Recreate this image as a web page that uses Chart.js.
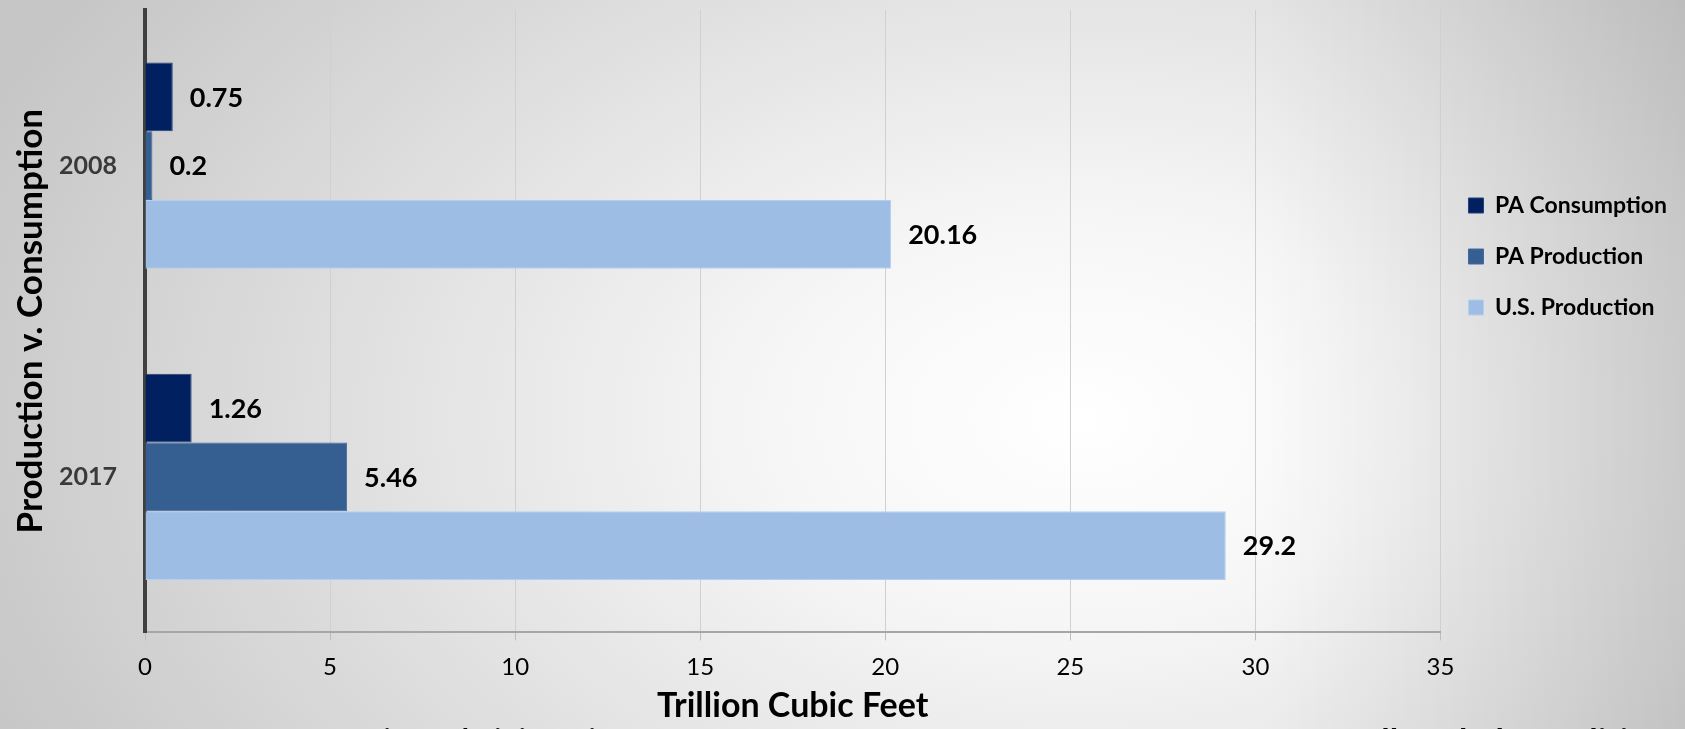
<!DOCTYPE html>
<html>
<head>
  <title>Production v. Consumption</title>
<script src="https://cdn.jsdelivr.net/npm/chart.js"></script>
<meta name="viewport" content="width=device-width, initial-scale=1.0">
</head>
<style>
body {
  margin: 0;
  overflow: hidden;
}

#page {
  position: relative;
  width: 1685px;
  height: 729px;
  overflow: hidden;
  background:
    linear-gradient(to right, rgba(0,0,0,0) 75%, rgba(0,0,0,0.12) 100%),
    radial-gradient(ellipse 1250px 820px at 1080px 420px, #ffffff 0%, #f6f6f6 25%, #e2e2e2 55%, #c6c6c6 95%);
  font-family: Lato, sans-serif;
}

#chart-container {
  position: absolute;
  left: 0;
  top: 0;
  width: 1685px;
  height: 729px;
}

.note {
  position: absolute;
  top: 724px;
  font-weight: bold;
  font-size: 30px;
  line-height: 1;
  white-space: nowrap;
  color: #000;
}
</style>
<body>
<div id="page">
  <div id="chart-container">
    <canvas id="chart"></canvas>
  </div>
  <div class="note" style="left: 2px;">Source: U.S. Energy Information Administration</div>
  <div class="note" style="left: 1286px; font-size: 34px;">Marcellus Shale Coalition</div>
</div>
</body>
<script>
const years = ['2008', '2017'];
const paConsumption = [0.75, 1.26];
const paProduction = [0.2, 5.46];
const usProduction = [20.16, 29.2];
const seriesNames = ['PA Consumption', 'PA Production', 'U.S. Production'];

// value labels to the right of each bar
const valueLabels = {
  id: 'valueLabels',
  afterDatasetsDraw(chart) {
    const ctx = chart.ctx;
    ctx.save();
    ctx.font = 'bold 27px Lato';
    ctx.fillStyle = '#000';
    ctx.textBaseline = 'middle';
    ctx.textAlign = 'left';
    chart.data.datasets.forEach((ds, i) => {
      chart.getDatasetMeta(i).data.forEach((bar, j) => {
        ctx.fillText(String(ds.data[j]), bar.x + 17, bar.y + 1);
      });
    });
    ctx.restore();
  }
};

const data = {
  labels: years,
  datasets: [{
    label: seriesNames[0],
    data: paConsumption,
    backgroundColor: '#002060',
    borderColor: '#23407a',
    borderWidth: 1
  }, {
    label: seriesNames[1],
    data: paProduction,
    backgroundColor: '#365F91',
    borderColor: '#4569a0',
    borderWidth: 1
  }, {
    label: seriesNames[2],
    data: usProduction,
    backgroundColor: '#9DBDE4',
    borderColor: '#b6cfee',
    borderWidth: 1
  }]
};

const chartEl = document.getElementById('chart');
const chart = new Chart(chartEl, {
  type: 'bar',
  data: data,
  plugins: [valueLabels],
  options: {
    indexAxis: 'y',
    responsive: true,
    maintainAspectRatio: false,
    animation: false,
    layout: {
      padding: { top: 10, right: 8, bottom: 0, left: 0 }
    },
    datasets: {
      bar: {
        barPercentage: 1.0,
        categoryPercentage: 0.663
      }
    },
    scales: {
      x: {
        min: 0,
        max: 35,
        ticks: {
          stepSize: 5,
          padding: 12,
          color: '#000',
          font: { family: 'Lato', size: 24 }
        },
        grid: {
          color: '#d0d0d0',
          lineWidth: 1,
          tickLength: 8,
          tickColor: '#bdbdbd'
        },
        border: {
          color: '#a6a6a6',
          width: 2
        },
        title: {
          display: true,
          text: 'Trillion Cubic Feet',
          color: '#000',
          font: { family: 'Lato', size: 34, weight: 'bold' },
          padding: { top: -8, bottom: 3 }
        }
      },
      y: {
        // keep the plot top at the layout padding
        afterFit(scale) {
          scale.paddingTop = 0;
          scale.paddingBottom = 0;
        },
        grid: { display: false, drawTicks: false },
        border: {
          color: '#404040',
          width: 4
        },
        ticks: {
          padding: 28,
          color: '#3a3a3a',
          font: { family: 'Lato', size: 25, weight: 'bold' }
        },
        title: {
          display: true,
          text: 'Production v. Consumption',
          color: '#000',
          font: { family: 'Lato', size: 35, weight: 'bold' },
          padding: { top: 10, bottom: -21 }
        }
      }
    },
    plugins: {
      legend: {
        position: 'right',
        align: 'start',
        // empty title pushes the items down to the middle of the upper group
        title: {
          display: true,
          text: '',
          font: { size: 10, lineHeight: 1 },
          padding: { top: 146, bottom: 0 }
        },
        labels: {
          boxWidth: 15,
          boxHeight: 15,
          padding: 28,
          color: '#000',
          font: { family: 'Lato', size: 23, weight: 'bold' }
        }
      },
      tooltip: { enabled: false }
    }
  }
});
</script>
</html>
